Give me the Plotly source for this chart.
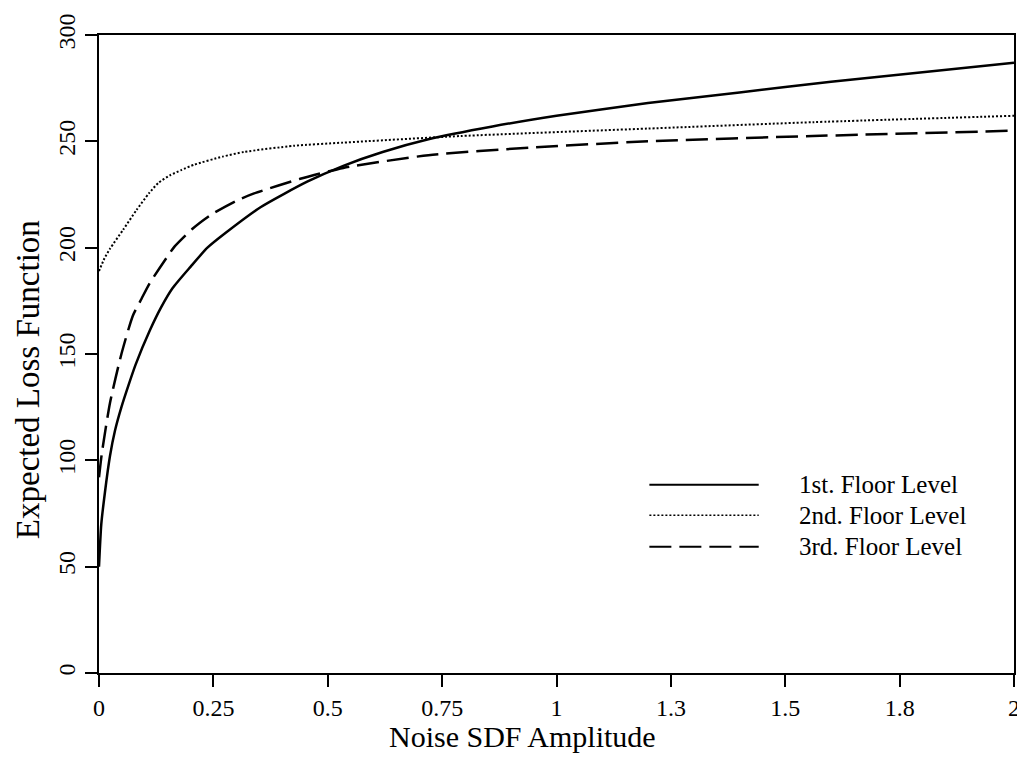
import plotly.graph_objects as go

# 1st floor (solid)
x_floor1 = [0, 0.005, 0.013, 0.024, 0.035, 0.049, 0.064, 0.08, 0.111, 0.136, 0.161, 0.2,
            0.237, 0.277, 0.353, 0.455, 0.534, 0.62, 0.72, 0.86, 1.0, 1.2, 1.4,
            1.6, 1.8, 2.0]
y_floor1 = [50, 70, 85, 102, 114, 125, 135, 145, 161, 172, 181, 191,
            200, 207, 219, 231, 238.5, 245, 251, 257, 262, 268, 273,
            278, 282.5, 287]

# 2nd floor (dotted)
x_floor2 = [0, 0.012, 0.024, 0.053, 0.082, 0.109, 0.13, 0.155, 0.18, 0.208, 0.27, 0.317,
            0.426, 0.534, 0.79, 1.2, 1.56, 2.0]
y_floor2 = [189, 195, 199.5, 208.5, 217.7, 225.5, 230.5, 234, 236.5, 239, 242.8, 245,
            247.9, 249.4, 252.5, 256, 259, 262]

# 3rd floor (dashed)
x_floor3 = [0, 0.006, 0.024, 0.049, 0.074, 0.093, 0.11, 0.147, 0.165, 0.205, 0.245,
            0.3, 0.339, 0.44, 0.534, 0.72, 0.94, 1.2, 1.56, 2.0]
y_floor3 = [92, 103, 127, 150, 168, 176, 183, 195, 200.5, 209, 215.5,
            222, 225.5, 232.4, 237.5, 243.5, 247, 250, 252.5, 255]

x_tickvals = [0, 0.25, 0.5, 0.75, 1, 1.25, 1.5, 1.75, 2]
x_ticktext = ["0", "0.25", "0.5", "0.75", "1", "1.3", "1.5", "1.8", "2"]
y_tickvals = [0, 50, 100, 150, 200, 250, 300]

labels = ["1st. Floor Level", "2nd. Floor Level", "3rd. Floor Level"]
styles = [dict(color="black", width=2.5, dash="solid"),
          dict(color="black", width=2, dash="2px,2px"),
          dict(color="black", width=2.5, dash="22px,8px")]

FONT = "Liberation Serif, Times New Roman, serif"

fig = go.Figure()
for xs, ys, name, st in zip([x_floor1, x_floor2, x_floor3],
                            [y_floor1, y_floor2, y_floor3], labels, styles):
    fig.add_trace(go.Scatter(x=xs, y=ys, mode="lines", name=name,
                             line=dict(shape="spline", smoothing=0.6, **st)))

axis_common = dict(showline=True, linecolor="black", linewidth=2, mirror=True,
                   ticks="outside", ticklen=12, tickwidth=2, tickcolor="black",
                   showgrid=False, zeroline=False, ticklabeloverflow="allow",
                   tickfont=dict(family=FONT, size=24, color="black"))

# page body has an 8px margin, so the figure is a bit smaller than the window
fig.update_layout(
    width=1017, height=749,
    margin=dict(l=91, r=5, t=18, b=84),
    paper_bgcolor="white", plot_bgcolor="white",
    showlegend=False,
    xaxis=dict(range=[0, 2], tickvals=x_tickvals, ticktext=x_ticktext, **axis_common),
    yaxis=dict(range=[0, 300], tickvals=y_tickvals, tickangle=-90, **axis_common),
)

# axis titles
fig.add_annotation(text="Noise SDF Amplitude", xref="paper", yref="paper",
                   x=0.4625, y=-0.1, xanchor="center", yanchor="middle",
                   showarrow=False, font=dict(family=FONT, size=30, color="black"))
fig.add_annotation(text="Expected Loss Function", xref="paper", yref="paper",
                   x=-0.078, y=0.46, xanchor="center", yanchor="middle", textangle=-90,
                   showarrow=False, font=dict(family=FONT, size=33, color="black"))

# hand-drawn legend
legend_rows = [0.2952, 0.2473, 0.1978]
for yy, name, st in zip(legend_rows, labels, styles):
    fig.add_shape(type="line", xref="paper", yref="paper",
                  x0=0.6015, x1=0.721, y0=yy, y1=yy,
                  line=dict(color="black", width=st["width"] - 0.5, dash=st["dash"]))
    fig.add_annotation(text=name, xref="paper", yref="paper", x=0.7633, y=yy,
                       xanchor="left", yanchor="middle", showarrow=False,
                       font=dict(family=FONT, size=25, color="black"))

fig.write_html("out.html")
